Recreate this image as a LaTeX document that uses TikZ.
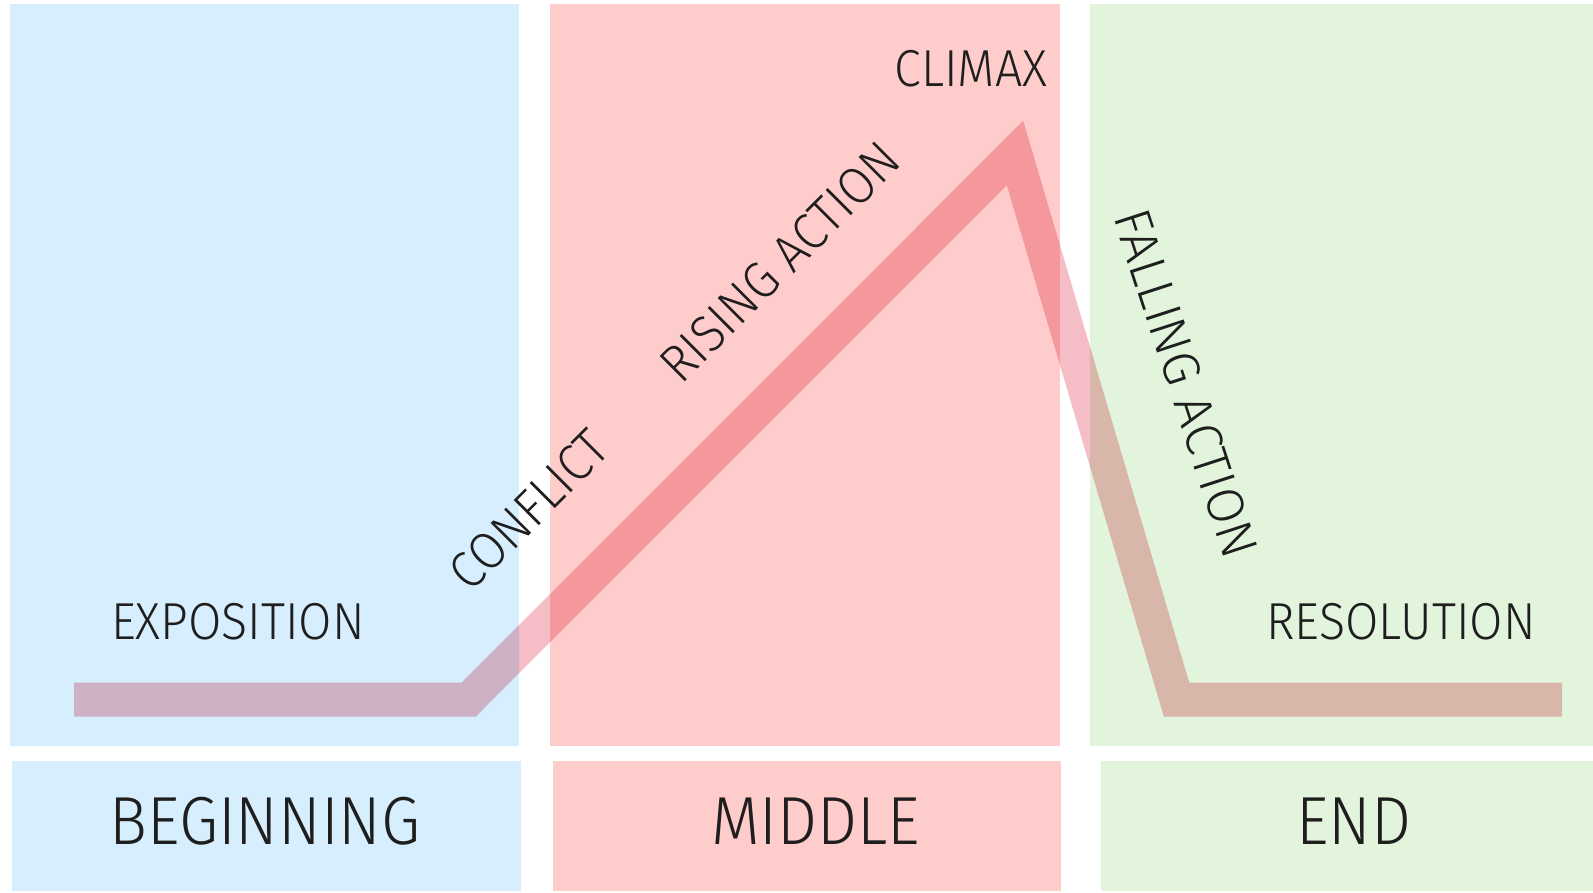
\documentclass[tikz,border=0pt]{standalone}
\usepackage{fontspec}
\newfontfamily\lblfont{Fira Sans Light}[FakeStretch=0.93]
\newfontfamily\lblfontw{Fira Sans Light}[FakeStretch=0.99]
\definecolor{bluep}{RGB}{214,238,253}
\definecolor{pinkp}{RGB}{255,204,204}
\definecolor{greenp}{RGB}{226,245,220}
\definecolor{linec}{RGB}{245,190,198}
\definecolor{textc}{RGB}{30,30,30}
\begin{document}
\begin{tikzpicture}[x=1pt,y=-1pt,
  small/.style={font=\lblfont\fontsize{52}{60}\selectfont, text=textc, inner sep=0pt},
  smallw/.style={font=\lblfontw\fontsize{52}{60}\selectfont, text=textc, inner sep=0pt},
  big/.style={font=\lblfont\fontsize{68}{80}\selectfont, text=textc, inner sep=0pt},
  arcline/.style={line width=34pt, draw=linec, line join=miter, blend mode=multiply}]
\useasboundingbox (0,0) rectangle (1593,893);
\fill[white] (0,0) rectangle (1593,893);
% top panels
\fill[bluep]  (9.6,4) rectangle (518.5,746);
\fill[pinkp]  (549.5,4) rectangle (1060,746);
\fill[greenp] (1089.6,4) rectangle (1593,746);
% bottom panels
\fill[bluep]  (11.5,761) rectangle (520.5,891);
\fill[pinkp]  (552.5,761) rectangle (1060.5,891);
\fill[greenp] (1101,761) rectangle (1593,891);
% plot line
\coordinate (s) at (74,699.5);
\coordinate (k1) at (468.7,699.5);
\coordinate (pk) at (1015,153);
\coordinate (k2) at (1176.5,699.5);
\coordinate (e) at (1562,699.5);
\draw[arcline] (s) -- (k1) -- (pk) -- (k2) -- (e);
% labels
\node[small, anchor=base] (expo) at (238,639) {EXPOSITION};
\node[small, anchor=base] (reso) at (1401,639) {RESOLUTION};
\node[small, anchor=base] (clim) at (971,86.7) {CLIMAX};
\node[small, rotate=45] (conf) at (529,510) {CONFLICT};
\node[small, rotate=45] (rise) at (780,262) {RISING ACTION};
\node[smallw, rotate=-72] (fall) at (1186,383.5) {FALLING ACTION};
\node[big, anchor=base] (beg) at (265,844) {BEGINNING};
\node[big, anchor=base] (mid) at (815.7,844) {MIDDLE};
\node[big, anchor=base] (endl) at (1354,844) {END};
\end{tikzpicture}
\end{document}
